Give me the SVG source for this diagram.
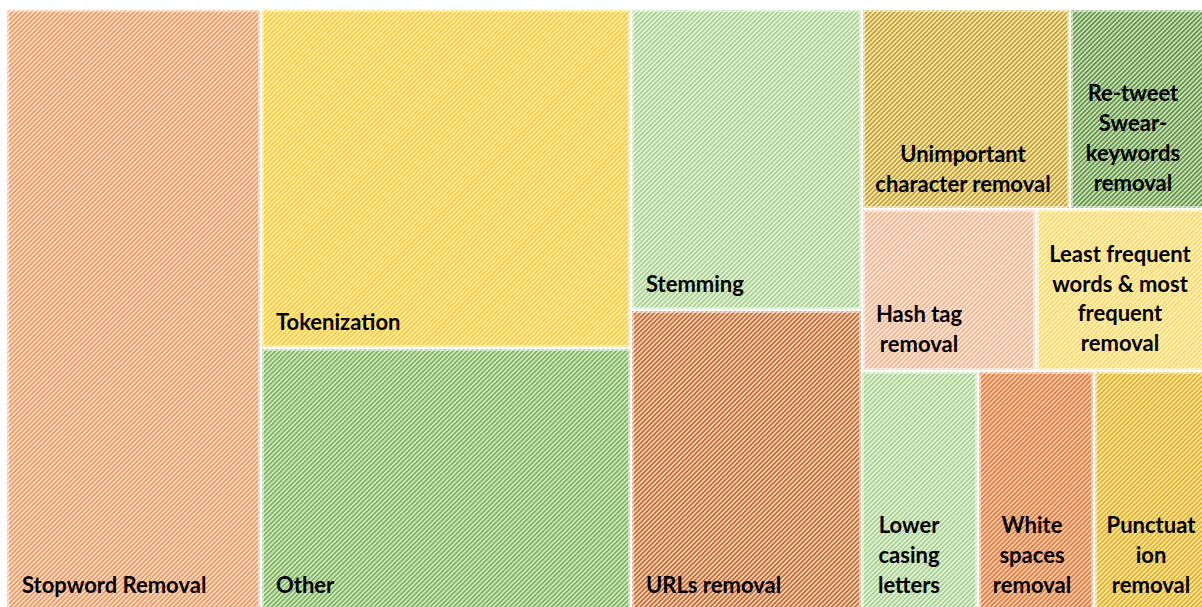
<svg xmlns="http://www.w3.org/2000/svg" width="1202" height="607" viewBox="0 0 1202 607">
  <style>
    .lbl { font-family: Lato, "Liberation Sans", sans-serif; font-weight: 700; font-size: 22px; fill: #000; }
    .mid { text-anchor: middle; }
    .edge { fill: none; stroke: #ffffff; stroke-opacity: 0.45; stroke-width: 2; }
  </style>
  <defs>
    <!-- upward diagonal hatch fills: light ground + darker stripe -->
    <pattern id="pOrange" width="3.3" height="10" patternUnits="userSpaceOnUse" patternTransform="rotate(45)">
      <rect width="3.3" height="10" fill="#FCE0CC"/><rect width="1.6" height="10" fill="#F0955A"/>
    </pattern>
    <pattern id="pYellow" width="3.3" height="10" patternUnits="userSpaceOnUse" patternTransform="rotate(45)">
      <rect width="3.3" height="10" fill="#FFEFB5"/><rect width="1.6" height="10" fill="#FFC92E"/>
    </pattern>
    <pattern id="pGreen" width="3.3" height="10" patternUnits="userSpaceOnUse" patternTransform="rotate(45)">
      <rect width="3.3" height="10" fill="#D2E7C4"/><rect width="1.6" height="10" fill="#7AB257"/>
    </pattern>
    <pattern id="pLightGreen" width="3.3" height="10" patternUnits="userSpaceOnUse" patternTransform="rotate(45)">
      <rect width="3.3" height="10" fill="#E6F2DE"/><rect width="1.6" height="10" fill="#A4CF88"/>
    </pattern>
    <pattern id="pBrown" width="3.3" height="10" patternUnits="userSpaceOnUse" patternTransform="rotate(45)">
      <rect width="3.3" height="10" fill="#F7D3BA"/><rect width="1.6" height="10" fill="#C4652A"/>
    </pattern>
    <pattern id="pOlive" width="3.3" height="10" patternUnits="userSpaceOnUse" patternTransform="rotate(45)">
      <rect width="3.3" height="10" fill="#F8E9B2"/><rect width="1.6" height="10" fill="#C29C2A"/>
    </pattern>
    <pattern id="pDarkGreen" width="3.3" height="10" patternUnits="userSpaceOnUse" patternTransform="rotate(45)">
      <rect width="3.3" height="10" fill="#CBE1BC"/><rect width="1.6" height="10" fill="#5E9242"/>
    </pattern>
    <pattern id="pSalmon" width="3.3" height="10" patternUnits="userSpaceOnUse" patternTransform="rotate(45)">
      <rect width="3.3" height="10" fill="#FDEADF"/><rect width="1.6" height="10" fill="#F5B088"/>
    </pattern>
    <pattern id="pPaleYellow" width="3.3" height="10" patternUnits="userSpaceOnUse" patternTransform="rotate(45)">
      <rect width="3.3" height="10" fill="#FFF4CC"/><rect width="1.6" height="10" fill="#FFD65A"/>
    </pattern>
    <pattern id="pDeepOrange" width="3.3" height="10" patternUnits="userSpaceOnUse" patternTransform="rotate(45)">
      <rect width="3.3" height="10" fill="#F9CDAE"/><rect width="1.6" height="10" fill="#E3793A"/>
    </pattern>
    <pattern id="pGold" width="3.3" height="10" patternUnits="userSpaceOnUse" patternTransform="rotate(45)">
      <rect width="3.3" height="10" fill="#FCE7A6"/><rect width="1.6" height="10" fill="#E2AE1C"/>
    </pattern>
  </defs>

  <rect width="1202" height="607" fill="#ffffff"/>

  <g id="stopword-removal">
    <rect x="7" y="10" width="253" height="597" fill="url(#pOrange)"/>
    <rect class="edge" x="8" y="11" width="251" height="597"/>
    <text class="lbl" x="22" y="593">Stopword Removal</text>
  </g>

  <g id="tokenization">
    <rect x="262" y="10" width="368" height="337" fill="url(#pYellow)"/>
    <rect class="edge" x="263" y="11" width="366" height="335"/>
    <text class="lbl" x="276" y="330">Tokenization</text>
  </g>

  <g id="other">
    <rect x="262" y="349" width="368" height="258" fill="url(#pGreen)"/>
    <rect class="edge" x="263" y="350" width="366" height="258"/>
    <text class="lbl" x="276" y="593">Other</text>
  </g>

  <g id="stemming">
    <rect x="632" y="10" width="229" height="299" fill="url(#pLightGreen)"/>
    <rect class="edge" x="633" y="11" width="227" height="297"/>
    <text class="lbl" x="646" y="292">Stemming</text>
  </g>

  <g id="urls-removal">
    <rect x="632" y="311" width="229" height="296" fill="url(#pBrown)"/>
    <rect class="edge" x="633" y="312" width="227" height="296"/>
    <text class="lbl" x="646" y="593">URLs removal</text>
  </g>

  <g id="unimportant-character-removal">
    <rect x="863" y="10" width="206" height="198" fill="url(#pOlive)"/>
    <rect class="edge" x="864" y="11" width="204" height="196"/>
    <text class="lbl mid" x="963" y="162">Unimportant</text>
    <text class="lbl mid" x="963" y="192">character removal</text>
  </g>

  <g id="retweet-swear-keywords-removal">
    <rect x="1071" y="10" width="131" height="198" fill="url(#pDarkGreen)"/>
    <rect class="edge" x="1072" y="11" width="131" height="196"/>
    <text class="lbl mid" x="1133" y="101">Re-tweet</text>
    <text class="lbl mid" x="1133" y="131">Swear-</text>
    <text class="lbl mid" x="1133" y="161">keywords</text>
    <text class="lbl mid" x="1133" y="191">removal</text>
  </g>

  <g id="hash-tag-removal">
    <rect x="863" y="210" width="172" height="160" fill="url(#pSalmon)"/>
    <rect class="edge" x="864" y="211" width="170" height="158"/>
    <text class="lbl mid" x="919" y="322">Hash tag</text>
    <text class="lbl mid" x="919" y="352">removal</text>
  </g>

  <g id="least-most-frequent-removal">
    <rect x="1037" y="210" width="165" height="160" fill="url(#pPaleYellow)"/>
    <rect class="edge" x="1038" y="211" width="165" height="158"/>
    <text class="lbl mid" x="1120" y="262">Least frequent</text>
    <text class="lbl mid" x="1120" y="292">words &amp; most</text>
    <text class="lbl mid" x="1120" y="321">frequent</text>
    <text class="lbl mid" x="1120" y="351">removal</text>
  </g>

  <g id="lower-casing-letters">
    <rect x="862" y="372" width="115" height="235" fill="url(#pLightGreen)"/>
    <rect class="edge" x="863" y="373" width="113" height="235"/>
    <text class="lbl mid" x="909" y="533">Lower</text>
    <text class="lbl mid" x="909" y="563">casing</text>
    <text class="lbl mid" x="909" y="593">letters</text>
  </g>

  <g id="white-spaces-removal">
    <rect x="979" y="372" width="114" height="235" fill="url(#pDeepOrange)"/>
    <rect class="edge" x="980" y="373" width="112" height="235"/>
    <text class="lbl mid" x="1032" y="533">White</text>
    <text class="lbl mid" x="1032" y="563">spaces</text>
    <text class="lbl mid" x="1032" y="593">removal</text>
  </g>

  <g id="punctuation-removal">
    <rect x="1095" y="372" width="107" height="235" fill="url(#pGold)"/>
    <rect class="edge" x="1096" y="373" width="107" height="235"/>
    <text class="lbl mid" x="1151" y="533">Punctuat</text>
    <text class="lbl mid" x="1151" y="563">ion</text>
    <text class="lbl mid" x="1151" y="593">removal</text>
  </g>

  <!-- treemap has no connectors -->
  <g id="connectors"/>
</svg>
